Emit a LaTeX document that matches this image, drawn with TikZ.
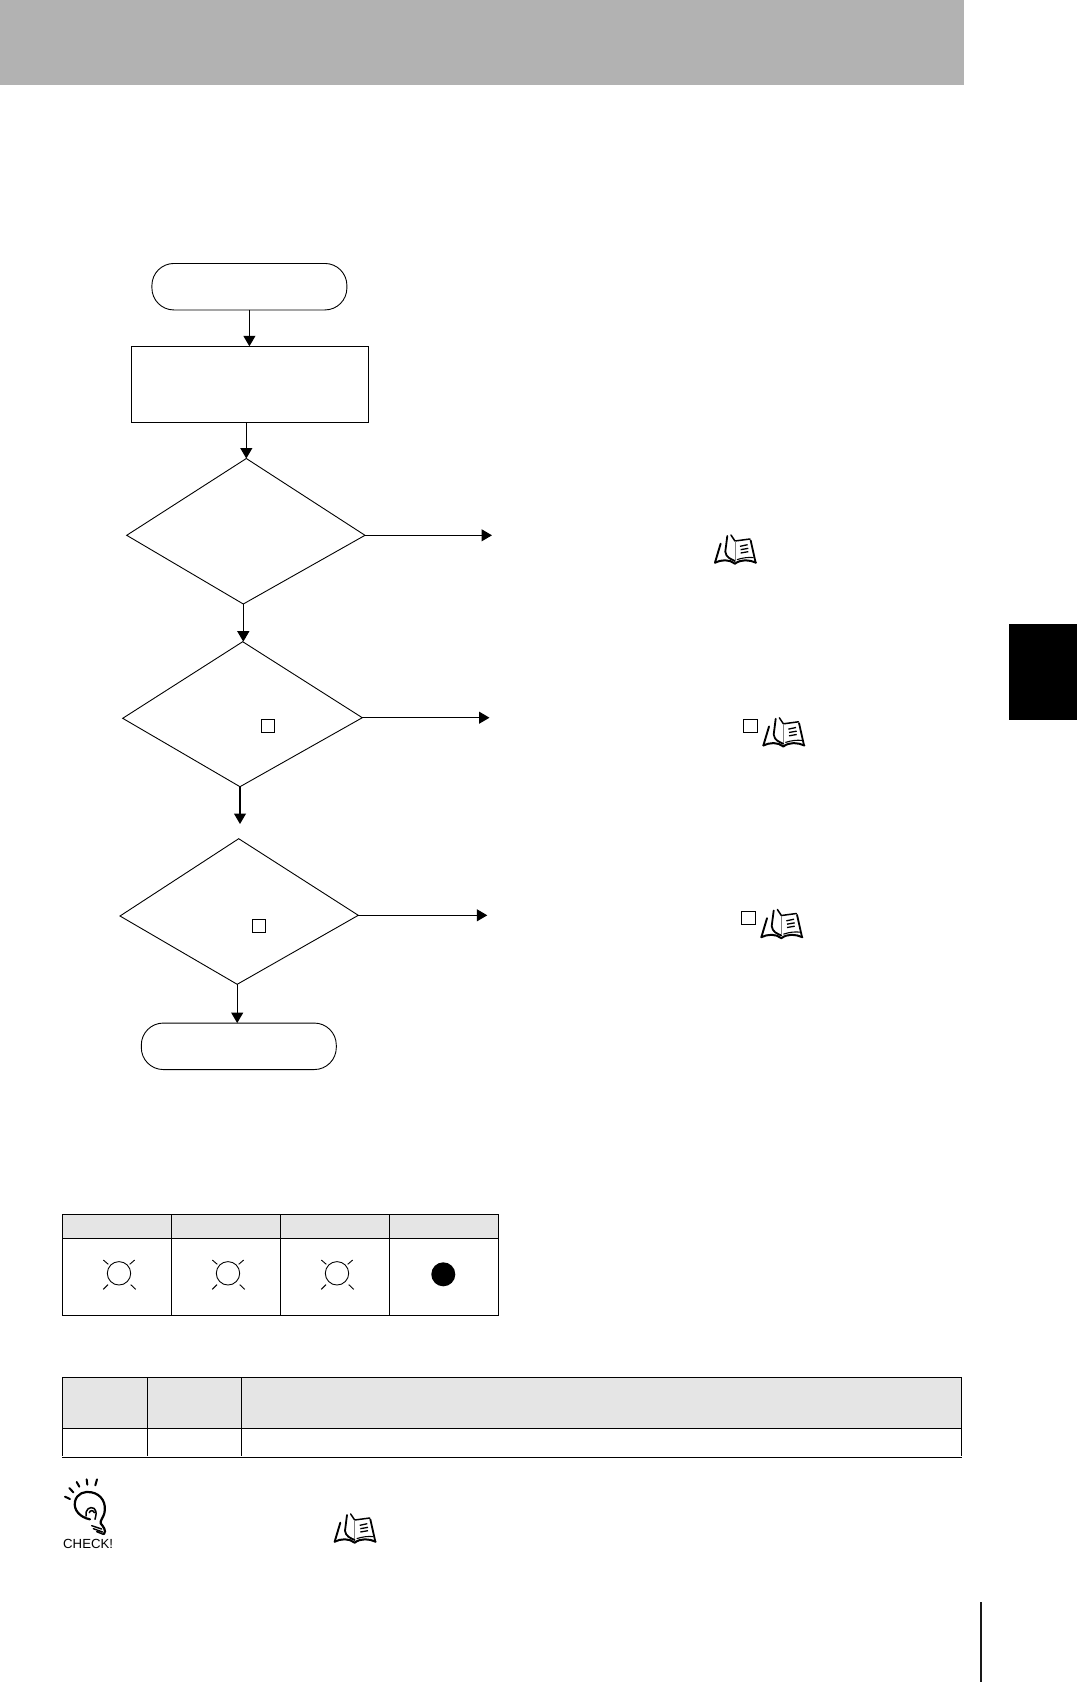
\documentclass[tikz,border=0pt]{standalone}
\usepackage{fontspec}
\setmainfont{Liberation Sans}
\usetikzlibrary{arrows.meta}
\definecolor{bandgray}{HTML}{B2B2B2}
\definecolor{headgray}{HTML}{E5E5E5}
\tikzset{
  x=1pt,y=-1pt,
  conn/.style={line width=1.1pt,-{Triangle[length=10.5pt,width=12pt]},shorten >=0pt},
  terminal/.style={draw,line width=0.9pt,rectangle,rounded corners=22pt,minimum width=195pt,minimum height=46.5pt,inner sep=0pt,outer sep=0pt},
  procbox/.style={draw,line width=1.1pt,rectangle,minimum width=237pt,minimum height=76pt,inner sep=0pt,outer sep=0pt},
  decision/.style={draw,line width=0.9pt,line join=miter},
  tinybox/.style={draw,line width=1pt,rectangle,minimum width=13.2pt,minimum height=13pt,inner sep=0pt,outer sep=0pt},
  grid line/.style={line width=1.15pt},
  bookicon/.pic={
    \draw[line width=1.9pt,line cap=round] (2,83) -- (19,26);
    \draw[line width=1.8pt,line cap=round,line join=round] (39,3) -- (33,50) .. controls (35,68) and (50,72) .. (62,78);
    \draw[line width=1.5pt,line cap=round,line join=round] (50,0) -- (62,18) -- (107,12);
    \draw[line width=1.8pt,line cap=round] (109,16) -- (124,83);
    \draw[line width=2pt,line cap=round,line join=round] (2,83) .. controls (20,74) and (45,72) .. (62,86) .. controls (80,72) and (105,74) .. (125,83);
    \draw[line width=1.1pt] (68,74) .. controls (85,68) and (105,66) .. (118,68);
    \draw[line width=0.4pt,gray] (62,18) -- (62,76);
    \draw[line width=1.3pt] (77,34) -- (100,29) (79,44) -- (102,40) (79,54) -- (102,50);
  },
  lampicon/.pic={
    \draw[line width=0.9pt] (0,0) circle[radius=11.7];
    \draw[line width=0.9pt] (-15.7,-13.3) -- (-10.7,-9) (15.7,-13.3) -- (10.7,-9)
      (-15.7,16) -- (-11,11.3) (16.7,16) -- (11.7,11.3);
  }
}
\begin{document}
\begin{tikzpicture}
\useasboundingbox (0,0) rectangle (1077,1682);
\fill[white] (0,0) rectangle (1077,1682);
% page furniture
\fill[bandgray] (0,0) rectangle (964,85);
\fill[black] (1009,624) rectangle (1077,720);
\fill[black!90] (980,1602) rectangle (982,1682);

% flowchart
\node[terminal] (st) at (249.4,286.7) {};
\node[procbox] (pr) at (249.8,384.3) {};
\node[terminal] (en) at (238.8,1046.3) {};
\coordinate (d1n) at (246.3,458.5);
\coordinate (d1w) at (126.7,535.3);
\coordinate (d1e) at (365,535.3);
\coordinate (d1s) at (243.3,604);
\coordinate (d2n) at (242.7,641.7);
\coordinate (d2w) at (122.7,718.3);
\coordinate (d2e) at (362.3,717.7);
\coordinate (d2s) at (240,786.7);
\coordinate (d3n) at (238.7,838.7);
\coordinate (d3w) at (120,916);
\coordinate (d3e) at (358.3,915.3);
\coordinate (d3s) at (237.2,984.3);
\draw[decision] (d1n) -- (d1e) -- (d1s) -- (d1w) -- cycle;
\draw[decision] (d2n) -- (d2e) -- (d2s) -- (d2w) -- cycle;
\draw[decision] (d3n) -- (d3e) -- (d3s) -- (d3w) -- cycle;
\node[tinybox] (s2) at (268,726.4) {};
\node[tinybox] (s3) at (259,926) {};

\coordinate (a1) at (492,535.3);
\coordinate (a2) at (489.5,717.7);
\coordinate (a3) at (487.3,915.3);
\coordinate (c23) at (240,824);

\draw[conn] (st.south) -- (st.south |- pr.north);
\draw[conn] (d1n |- pr.south) -- (d1n);
\draw[conn] (d1s) -- (d1s |- d2n);
\draw[conn] (d2s) -- (c23);
\draw[conn] (d3s) -- (d3s |- en.north);
\draw[conn] (d1e) -- (a1);
\draw[conn] (d2e) -- (a2);
\draw[conn] (d3e) -- (a3);

% references beside the branches
\pic[scale=1/3] at (714.3,535) {bookicon};
\pic[scale=1/3] at (762.7,717.8) {bookicon};
\pic[scale=1/3] at (760.7,909.5) {bookicon};
\pic[scale=1/3] at (334,1514) {bookicon};
\node[tinybox] (s4) at (750.5,726) {};
\node[tinybox] (s5) at (748.5,917.5) {};

% indicator table
\fill[headgray] (62.7,1214.3) rectangle (498.3,1238.3);
\draw[grid line] (62.7,1214.3) rectangle (498.3,1315.3);
\draw[grid line] (62.7,1238.3) -- (498.3,1238.3);
\foreach \xx in {171.3,280.3,389.3} \draw[grid line] (\xx,1214.3) -- (\xx,1315.3);
\pic at (119,1273.3) {lampicon};
\pic at (228,1273.3) {lampicon};
\pic at (337,1273.3) {lampicon};
\fill[black] (443.3,1274.3) circle[radius=12];

% status table
\fill[headgray] (62.7,1377.3) rectangle (961.3,1428.3);
\draw[grid line] (62.7,1377.3) -- (961.3,1377.3) (62.7,1428.3) -- (961.3,1428.3);
\draw[grid line] (62.2,1457.3) -- (962,1457.3);
\foreach \xx in {62.7,147.3,241.7,961.3} \draw[grid line] (\xx,1377.3) -- (\xx,1456);

% check mark
\begin{scope}[shift={(40,1460)},scale=1/3]
\draw[line width=2pt,line cap=round] (75,110) -- (90,117) (88,84) -- (100,97) (110,66) -- (118,80) (140,58) -- (142,74) (171,58) -- (166,76);
\draw[line width=2.2pt,line cap=round] (150,178) .. controls (120,172) and (100,150) .. (105,125) .. controls (110,100) and (135,92) .. (155,97) .. controls (185,103) and (200,130) .. (193,160) .. controls (190,172) and (180,182) .. (182,190) .. controls (190,200) and (200,212) .. (192,222);
\draw[line width=1.5pt,line cap=round] (138,168) .. controls (135,148) and (150,138) .. (162,145) .. controls (172,155) and (168,165) .. (165,178) (148,158) .. controls (150,150) and (160,150) .. (163,158);
\draw[line width=1.4pt,line cap=round] (155,197) -- (185,207) (160,206) -- (188,216) (170,215) -- (190,223);
\end{scope}
\node[font=\fontsize{13.2}{13.2}\selectfont,inner sep=0pt,anchor=base west,text=black] (chk) at (63,1548) {CHECK!};
\end{tikzpicture}
\end{document}
